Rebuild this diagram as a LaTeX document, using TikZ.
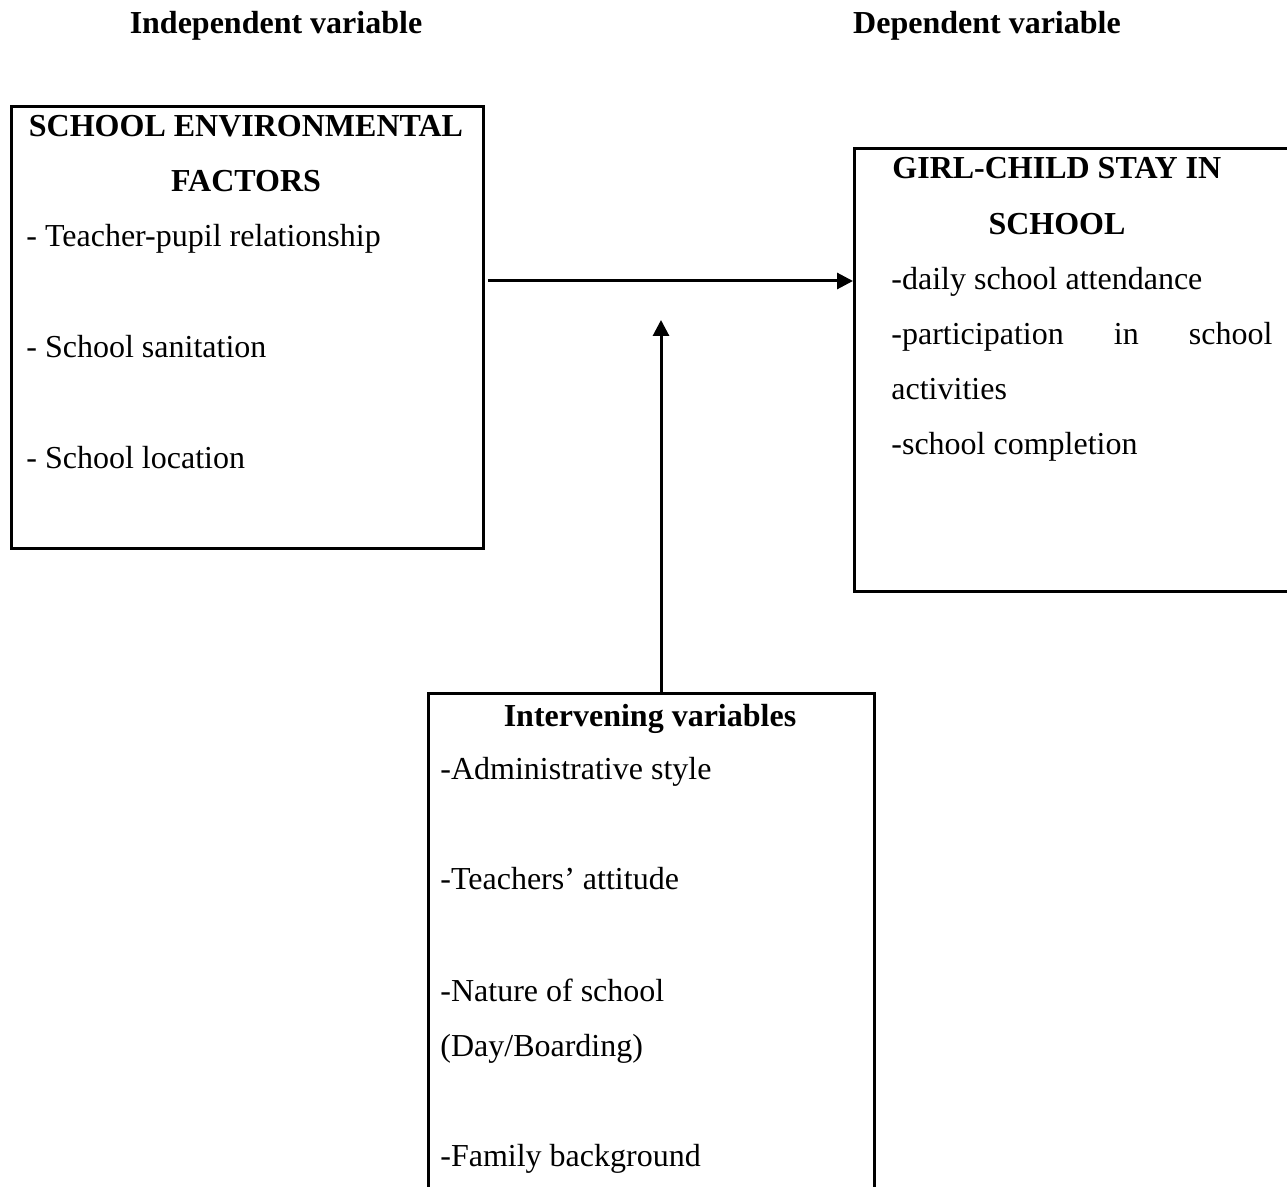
\documentclass[tikz,border=0pt]{standalone}
\usepackage{fontspec}
\setmainfont{Liberation Serif}
\usetikzlibrary{arrows.meta}
\begin{document}
\begin{tikzpicture}[x=0.5pt,y=-0.5pt,
  txt/.style={anchor=base west,inner sep=0pt,font=\fontsize{16}{19}\selectfont},
  hd/.style={anchor=base,inner sep=0pt,font=\fontsize{16}{19}\selectfont\bfseries},
  box/.style={draw,line width=1.4pt,inner sep=0pt,anchor=north west},
  arr/.style={-{Triangle[length=8pt,width=8pt]},line width=1.5pt}]
\useasboundingbox (0,0) rectangle (1287,1187);
\begin{scope}
\clip (0,0) rectangle (1287,1187);
% boxes
\node[box,minimum width=236pt,minimum height=221pt] (left) at (10,105) {};
\node[box,minimum width=230pt,minimum height=221.5pt] (right) at (853,147) {};
\node[box,minimum width=223pt,minimum height=260pt] (mid) at (427,692) {};
\end{scope}
% headings
\node[hd] (hind) at (276,34) {Independent variable};
\node[hd] (hdep) at (987,34) {Dependent variable};
% left box text
\node[hd] (l1) at (246,137) {SCHOOL ENVIRONMENTAL};
\node[hd] (l2) at (246,192) {FACTORS};
\node[txt] (l3) at (26,247) {- Teacher-pupil relationship};
\node[txt] (l4) at (26,358) {- School sanitation};
\node[txt] (l5) at (26,469) {- School location};
% right box text
\node[txt,font=\fontsize{16}{19}\selectfont\bfseries] (r1) at (892,179) {GIRL-CHILD STAY IN};
\node[hd] (r2) at (1057,235) {SCHOOL};
\node[txt] (r3) at (891,290) {-daily school attendance};
\node[txt] (r4) at (891,345) {\makebox[190.5pt][s]{-participation\hfill in\hfill school}};
\node[txt] (r5) at (891,400) {activities};
\node[txt] (r6) at (891,455) {-school completion};
% middle box text
\node[hd] (m1) at (650,727) {Intervening variables};
\node[txt] (m2) at (440,780) {-Administrative style};
\node[txt] (m3) at (440,890) {-Teachers’ attitude};
\node[txt] (m4) at (440,1001) {-Nature of school};
\node[txt] (m5) at (440,1056) {(Day/Boarding)};
\node[txt] (m6) at (440,1166) {-Family background};
% connectors
\coordinate (hy) at (0,281);
\coordinate (vtip) at (661,320);
\draw[arr,shorten <=1.5pt] (left.east |- hy) -- (right.west |- hy);
\draw[arr] (mid.north -| vtip) -- (vtip);
\end{tikzpicture}
\end{document}
